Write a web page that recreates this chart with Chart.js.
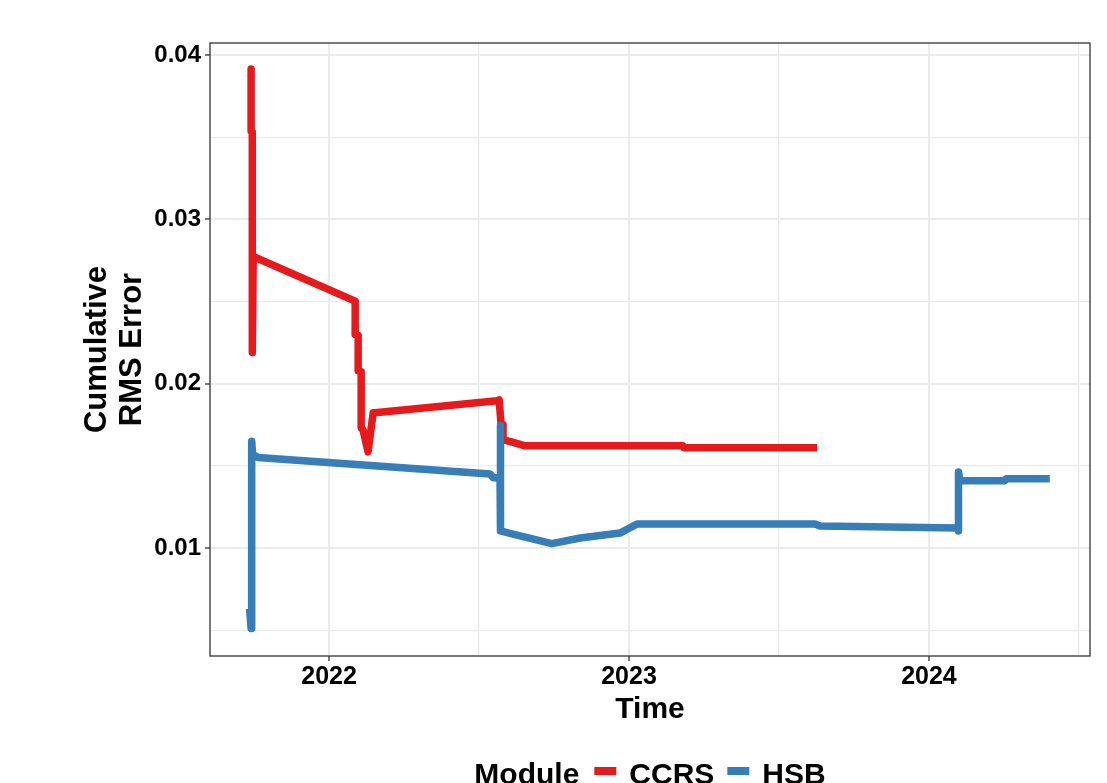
<!DOCTYPE html>
<html>
<head>
<meta charset="utf-8">
<script src="https://cdn.jsdelivr.net/npm/chart.js@4/dist/chart.umd.min.js"></script>
<style>
  body { margin: 0; background: #fff; }
  #wrap { width: 1107px; height: 783px; }
</style>
</head>
<body>
<div id="wrap"><canvas id="rms-chart" width="1107" height="783"></canvas></div>
<script>
// series names and legend title
const seriesNames = ['CCRS', 'HSB'];
const legendTitle = 'Module';

// CCRS (time in decimal years, cumulative RMS error)
const ccrsTime = [2021.740, 2021.740, 2021.744, 2021.744, 2021.747, 2022.087, 2022.087, 2022.097, 2022.097,
    2022.107, 2022.107, 2022.113, 2022.130, 2022.147, 2022.153, 2022.560, 2022.567, 2022.573, 2022.580,
    2022.580, 2022.620, 2022.653, 2023.180, 2023.183, 2023.627];
const ccrsError = [0.03915, 0.03537, 0.03530, 0.02189, 0.02774, 0.02502, 0.02299, 0.02293, 0.02079,
    0.02073, 0.01732, 0.01720, 0.01585, 0.01823, 0.01823, 0.01896, 0.01902, 0.01762, 0.01750,
    0.01659, 0.01640, 0.01622, 0.01622, 0.01610, 0.01610];

// HSB
const hsbTime = [2021.735, 2021.740, 2021.742, 2021.745, 2021.763, 2022.537, 2022.547, 2022.570, 2022.570,
    2022.573, 2022.613, 2022.743, 2022.837, 2022.970, 2023.027, 2023.620, 2023.637, 2024.097, 2024.097,
    2024.100, 2024.103, 2024.113, 2024.253, 2024.257, 2024.403];
const hsbError = [0.0063, 0.0051, 0.0165, 0.0157, 0.01551, 0.01451, 0.01427, 0.01427, 0.01745,
    0.01104, 0.01085, 0.01027, 0.01061, 0.01091, 0.01146, 0.01146, 0.01134, 0.01122, 0.01104,
    0.01463, 0.01415, 0.01409, 0.01409, 0.01421, 0.01421];

// axis ticks (major labelled, minor only gridlines)
const xMajor = [2022, 2023, 2024];
const xMinor = [2022.5, 2023.5, 2024.5];
const yMajor = [0.01, 0.02, 0.03, 0.04];
const yMinor = [0.005, 0.015, 0.025, 0.035];

const colors = ['#E41A1C', '#377EB8'];
const fontFamily = '"Liberation Sans", Arial, sans-serif';

function toPoints(xs, ys) {
    return xs.map((x, i) => ({ x: x, y: ys[i] }));
}

function gridOpts(major) {
    return {
        color: '#EBEBEB',
        lineWidth: ctx => major.includes(ctx.tick && ctx.tick.value) ? 2 : 1.3,
        tickColor: ctx => major.includes(ctx.tick && ctx.tick.value) ? '#333333' : 'rgba(0,0,0,0)',
        tickLength: 5,
        tickWidth: 1.3
    };
}

// dark frame around the panel
const panelFrame = {
    id: 'panelFrame',
    afterDatasetsDraw(chart) {
        const a = chart.chartArea;
        const ctx = chart.ctx;
        ctx.save();
        ctx.strokeStyle = '#333333';
        ctx.lineWidth = 1.3;
        ctx.strokeRect(a.left, a.top, a.right - a.left, a.bottom - a.top);
        ctx.restore();
    }
};

// ggplot-like legend: "Module  ▬ CCRS  ▬ HSB" on one row
const inlineLegend = {
    id: 'inlineLegend',
    afterDraw(chart) {
        const ctx = chart.ctx;
        const a = chart.chartArea;
        ctx.save();
        ctx.font = 'bold 30px ' + fontFamily;
        ctx.textBaseline = 'alphabetic';
        const keyW = 22, keyH = 8;
        const parts = [{ text: legendTitle, gap: 15 }];
        seriesNames.forEach((n, i) => {
            parts.push({ key: colors[i], gap: 13 });
            parts.push({ text: n, gap: 13 });
        });
        let total = 0;
        parts.forEach((p, i) => {
            p.w = p.text ? ctx.measureText(p.text).width : keyW;
            total += p.w + (i < parts.length - 1 ? p.gap : 0);
        });
        let x = (a.left + a.right) / 2 - total / 2;
        const baseY = 783.5;
        parts.forEach(p => {
            if (p.text) {
                ctx.fillStyle = '#000000';
                ctx.fillText(p.text, x, baseY);
            } else {
                ctx.fillStyle = p.key;
                ctx.fillRect(x, 771 - keyH / 2, keyW, keyH);
            }
            x += p.w + p.gap;
        });
        ctx.restore();
    }
};

const chart = new Chart(document.getElementById('rms-chart'), {
    type: 'line',
    data: {
        datasets: [
            {
                label: seriesNames[0],
                data: toPoints(ccrsTime, ccrsError),
                borderColor: colors[0],
                order: 2
            },
            {
                label: seriesNames[1],
                data: toPoints(hsbTime, hsbError),
                borderColor: colors[1],
                order: 1
            }
        ]
    },
    options: {
        responsive: false,
        animation: false,
        events: [],
        layout: { padding: { top: 43, right: 17, left: 0, bottom: 0 } },
        elements: {
            line: { borderWidth: 7.5, tension: 0, borderJoinStyle: 'round', borderCapStyle: 'butt', fill: false },
            point: { radius: 0 }
        },
        plugins: {
            legend: { display: false },
            tooltip: { enabled: false }
        },
        scales: {
            x: {
                type: 'linear',
                min: 2021.603,
                max: 2024.537,
                afterBuildTicks: s => { s.ticks = xMajor.concat(xMinor).sort((a, b) => a - b).map(v => ({ value: v })); },
                afterFit: s => { s.height = 127; },
                ticks: {
                    autoSkip: false,
                    maxRotation: 0,
                    padding: 1,
                    color: '#000000',
                    font: { family: fontFamily, size: 25, weight: 'bold' },
                    callback: v => xMajor.includes(v) ? String(v) : ''
                },
                grid: gridOpts(xMajor),
                border: { display: false },
                title: {
                    display: true,
                    text: 'Time',
                    color: '#000000',
                    font: { family: fontFamily, size: 30, weight: 'bold', lineHeight: 1.13 },
                    padding: { top: 0, bottom: 56 }
                }
            },
            y: {
                type: 'linear',
                min: 0.00343,
                max: 0.04073,
                afterBuildTicks: s => { s.ticks = yMinor.concat(yMajor).sort((a, b) => a - b).map(v => ({ value: v })); },
                afterFit: s => { s.width = 210; },
                ticks: {
                    autoSkip: false,
                    padding: 4,
                    color: '#000000',
                    font: { family: fontFamily, size: 24, weight: 'bold' },
                    callback: v => yMajor.includes(v) ? v.toFixed(2) : ''
                },
                grid: gridOpts(yMajor),
                border: { display: false },
                title: {
                    display: true,
                    text: ['Cumulative', 'RMS Error'],
                    color: '#000000',
                    font: { family: fontFamily, size: 31, weight: 'bold', lineHeight: 1.13 },
                    padding: { top: 80, bottom: 0 }
                }
            }
        }
    },
    plugins: [panelFrame, inlineLegend]
});
</script>
</body>
</html>
